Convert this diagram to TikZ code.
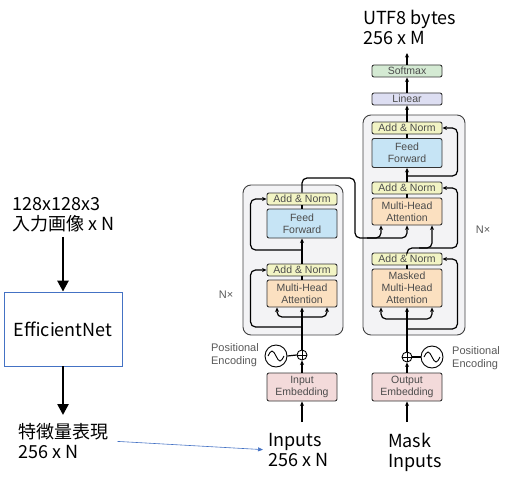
\documentclass[tikz,border=0pt]{standalone}
\usepackage{fontspec}
\newfontfamily\jpfont{Noto Sans CJK JP}
\newfontfamily\helv{Liberation Sans}
\usetikzlibrary{arrows.meta}

\definecolor{anyellow}{RGB}{242,244,196}
\definecolor{ffblue}{RGB}{198,228,245}
\definecolor{mhaorange}{RGB}{251,224,192}
\definecolor{embpink}{RGB}{243,218,218}
\definecolor{linpurple}{RGB}{221,222,242}
\definecolor{smgreen}{RGB}{212,234,211}
\definecolor{stackgray}{RGB}{243,243,245}
\definecolor{effblue}{RGB}{68,114,196}

\begin{document}
\begin{tikzpicture}[x=1pt, y=-1pt,
      >={Stealth[length=4.5pt,width=4pt]},
      big/.style={font=\jpfont\fontsize{18}{20}\selectfont, align=left, inner sep=0pt},
      sub/.style={draw=black!80, line width=0.9pt, rounded corners=2pt, minimum width=70pt, inner sep=0pt, align=center, text=black!70, font=\helv\fontsize{10.5}{12}\selectfont},
      addnorm/.style={sub, fill=anyellow, minimum height=12pt},
      ff/.style={sub, fill=ffblue, minimum height=29pt},
      mha/.style={sub, fill=mhaorange, minimum height=27pt},
      emb/.style={sub, fill=embpink, minimum height=28pt},
      lin/.style={sub, fill=linpurple, minimum height=12pt},
      smax/.style={sub, fill=smgreen, minimum height=12pt},
      stack/.style={draw=black!75, fill=stackgray, line width=0.9pt, rounded corners=8pt},
      adder/.style={draw, circle, line width=0.9pt, minimum size=10pt, inner sep=0pt},
      pe/.style={draw, circle, line width=0.9pt, minimum size=22pt, inner sep=0pt},
      lab/.style={font=\helv\fontsize{11}{13}\selectfont, text=black!65, align=left, inner sep=0pt},
      wire/.style={line width=1.2pt, rounded corners=5pt},
      bigarrow/.style={-{Triangle[length=11pt,width=11pt]}, line width=2.5pt}]
    \useasboundingbox (0,0) rectangle (513,484);
    % Image side
    \node[big, anchor=north west] (in128) at (12,197) {128x128x3\\入力画像 x N};
    \node[draw=effblue, line width=0.8pt, minimum width=118pt, minimum height=74pt, font=\jpfont\fontsize{18}{20}\selectfont] (effnet) at (63,329) {EfficientNet};
    \node[big, anchor=north west] (feat) at (18,423) {特徴量表現\\256 x N};
    \draw[bigarrow, shorten <=5pt] (effnet.north |- in128.south) -- (effnet.north);
    \draw[bigarrow, shorten >=8pt] (effnet.south) -- (effnet.south |- feat.north);
    % Stacks
    \draw[stack] (243,185) rectangle (343,335);
    \draw[stack] (363,115) rectangle (465,335);
    % Encoder
    \node[addnorm] (encan2) at (302,199)   {Add \& Norm};
    \node[ff]      (encff)  at (302,223.5) {Feed\\Forward};
    \node[addnorm] (encan1) at (302,270)   {Add \& Norm};
    \node[mha]     (encmha) at (302,293.5) {Multi-Head\\Attention};
    \node[lab]     (encn)   at (226,295)   {N×};
    \node[adder]   (encadd) at (302,355) {};
    \node[pe]      (encpe)  at (276,356) {};
    \node[lab, anchor=east] (encpetext) at (259,355) {Positional\\Encoding};
    \node[emb]     (encemb) at (302,387) {Input\\Embedding};
    \node[big, anchor=north west] (inputs) at (268,433) {Inputs\\256 x N};
    % Decoder
    \node[smax]    (smax)    at (407,71)  {Softmax};
    \node[lin]     (lin)     at (407,99)  {Linear};
    \node[addnorm] (decan3)  at (407,128) {Add \& Norm};
    \node[ff]      (decff)   at (407,153) {Feed\\Forward};
    \node[addnorm] (decan2)  at (407,188) {Add \& Norm};
    \node[mha]     (decmha)  at (407,211.5) {Multi-Head\\Attention};
    \node[addnorm] (decan1)  at (407,259) {Add \& Norm};
    \node[mha, minimum height=38pt] (decmmha) at (407,288) {Masked\\Multi-Head\\Attention};
    \node[lab]     (decn)    at (483,230) {N×};
    \node[adder]   (decadd)  at (407,357) {};
    \node[pe]      (decpe)   at (432,357) {};
    \node[lab, anchor=west] (decpetext) at (452,358) {Positional\\Encoding};
    \node[emb]     (decemb)  at (407,387) {Output\\Embedding};
    \node[big, anchor=north west] (mask) at (388,433) {Mask\\Inputs};
    \node[big, anchor=north west] (utf8) at (363,10) {UTF8 bytes\\256 x M};
    % Adders and sine waves
    \foreach \a in {encadd,decadd} {
      \draw[line width=0.9pt] (\a.north) -- (\a.south);
      \draw[line width=0.9pt] (\a.west) -- (\a.east);
    }
    \draw[line width=0.9pt] (268,356) sin (272,351) cos (276,356) sin (280,361) cos (284,356);
    \draw[line width=0.9pt] (424,357) sin (428,352) cos (432,357) sin (436,362) cos (440,357);
    % Encoder wires
    \coordinate (encsplit) at (302,317);
    \coordinate (encres1) at (302,327);
    \coordinate (encres2) at (302,250);
    \draw[wire, ->, shorten <=11pt] (encemb.south |- inputs.north) -- (encemb.south);
    \draw[wire, ->] (encemb.north) -- (encadd.south);
    \draw[wire] (encpe.east) -- (encadd.west);
    \draw[wire, ->] (encadd.north) -- (encmha.south);
    \draw[wire, ->] (encsplit) -| ([xshift=-25pt]encmha.south);
    \draw[wire, ->] (encsplit) -| ([xshift=25pt]encmha.south);
    \draw[wire, ->] (encres1) -| ([xshift=-16pt]encan1.west) -- (encan1.west);
    \draw[wire] (encmha.north) -- (encan1.south);
    \draw[wire, ->] (encan1.north) -- (encff.south);
    \draw[wire, ->] (encres2) -| ([xshift=-16pt]encan2.west) -- (encan2.west);
    \draw[wire] (encff.north) -- (encan2.south);
    % Encoder to decoder
    \coordinate (encturn) at (355,178);
    \coordinate (encout) at (355,238);
    \draw[wire, ->] (encan2.north) |- (encturn) -- (encout) -| ([xshift=-26pt]decmha.south);
    \draw[wire, ->] ([xshift=12pt]encout) -| (decmha.south);
    % Decoder wires
    \coordinate (decsplit) at (407,319);
    \coordinate (decres1) at (407,329);
    \coordinate (decq) at (407,248);
    \coordinate (decres3) at (407,176);
    \coordinate (decout) at (407,53);
    \draw[wire, ->, shorten <=11pt] (decemb.south |- mask.north) -- (decemb.south);
    \draw[wire, ->] (decemb.north) -- (decadd.south);
    \draw[wire] (decadd.east) -- (decpe.west);
    \draw[wire, ->] (decadd.north) -- (decmmha.south);
    \draw[wire, ->] (decsplit) -| ([xshift=-26pt]decmmha.south);
    \draw[wire, ->] (decsplit) -| ([xshift=25pt]decmmha.south);
    \draw[wire, ->] (decres1) -| ([xshift=15pt]decan1.east) -- (decan1.east);
    \draw[wire] (decmmha.north) -- (decan1.south);
    \draw[wire, ->] (decan1.north) -- (decq) -| ([xshift=25pt]decmha.south);
    \draw[wire, ->] ([xshift=12pt]decq) -| ([xshift=15pt]decan2.east) -- (decan2.east);
    \draw[wire] (decmha.north) -- (decan2.south);
    \draw[wire, ->] (decan2.north) -- (decff.south);
    \draw[wire, ->] (decres3) -| ([xshift=15pt]decan3.east) -- (decan3.east);
    \draw[wire] (decff.north) -- (decan3.south);
    \draw[wire, ->] (decan3.north) -- (lin.south);
    \draw[wire, ->] (lin.north) -- (smax.south);
    \draw[wire, ->] (smax.north) -- (decout);
    % Features into the encoder
    \draw[-{Triangle[length=5pt,width=4pt]}, effblue, line width=0.6pt, shorten <=9pt, shorten >=5pt] (feat.east) -- (inputs.west);
  \end{tikzpicture}
\end{document}
